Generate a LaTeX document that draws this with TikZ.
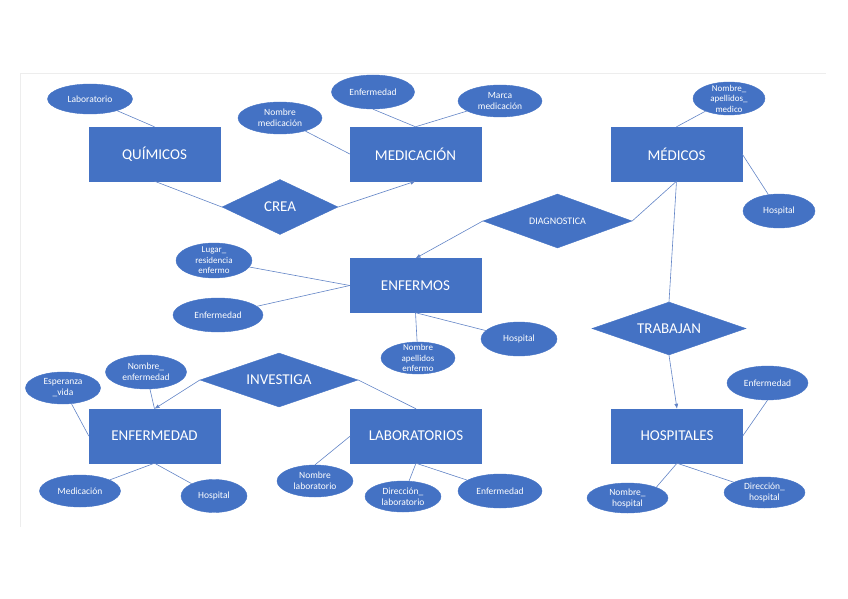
\documentclass[tikz,border=0pt]{standalone}
\usepackage{fontspec}
\setmainfont{Carlito}
\usetikzlibrary{shapes.geometric, arrows.meta}
\definecolor{erblue}{RGB}{68,114,196}
\definecolor{erline}{RGB}{98,132,198}
\tikzset{
    entidad/.style={rectangle, fill=erblue, draw=erblue, minimum width=131pt, minimum height=54pt, inner sep=0pt, text=white, font=\fontsize{15}{18}\selectfont},
    relacion/.style={diamond, aspect=3, fill=erblue, draw=erblue, inner sep=0pt, text=white, font=\fontsize{15}{18}\selectfont},
    atributo/.style={ellipse, fill=erblue, draw=erblue, inner sep=0pt, text=white, align=center, font=\fontsize{9.5}{11}\selectfont},
    conn/.style={erline, line width=0.6pt},
    flecha/.style={conn, -{Latex[length=5pt,width=4pt]}}
}

\begin{document}
\begin{tikzpicture}[x=1pt, y=-1pt]
    \useasboundingbox (0,0) rectangle (848,599);

    % Faint frame of the slide
    \draw[black!7] (20,527) -- (20,73) -- (826,73);

    % Entities
    \node[entidad] (quimicos) at (154.5,154) {QUÍMICOS};
    \node[entidad] (medicacion) at (415.5,154) {MEDICACIÓN};
    \node[entidad] (medicos) at (676.5,154) {MÉDICOS};
    \node[entidad] (enfermos) at (415.5,285.5) {ENFERMOS};
    \node[entidad] (enfermedad) at (154.5,436) {ENFERMEDAD};
    \node[entidad] (laboratorios) at (416,436) {LABORATORIOS};
    \node[entidad] (hospitales) at (677,436) {HOSPITALES};

    % Relationships
    \node[relacion, minimum width=116pt, minimum height=55pt] (crea) at (280,207) {CREA};
    \node[relacion, minimum width=149pt, minimum height=54pt, font=\fontsize{10}{12}\selectfont] (diagnostica) at (557.5,221) {DIAGNOSTICA};
    \node[relacion, minimum width=154pt, minimum height=53pt] (trabajan) at (669,328.5) {TRABAJAN};
    \node[relacion, minimum width=158pt, minimum height=54pt] (investiga) at (279,380) {INVESTIGA};

    % Attributes
    \node[atributo, minimum width=85pt, minimum height=30pt] (laboratorio) at (90,99) {Laboratorio};
    \node[atributo, minimum width=84pt, minimum height=32pt] (nommedicacion) at (280,118) {Nombre\\medicación};
    \node[atributo, minimum width=83pt, minimum height=34pt] (enfmedicacion) at (373,92) {Enfermedad};
    \node[atributo, minimum width=84pt, minimum height=32pt] (marca) at (500,101) {Marca\\medicación};
    \node[atributo, minimum width=72pt, minimum height=33pt, inner ysep=-6pt, font=\fontsize{9}{10.5}\selectfont] (nommedico) at (729,98.5) {Nombre\_\\apellidos\_\\medico};
    \node[atributo, minimum width=72pt, minimum height=34pt] (hospmedico) at (779,211) {Hospital};
    \node[atributo, minimum width=76pt, minimum height=35pt, inner ysep=-6pt, font=\fontsize{9}{10.5}\selectfont] (lugar) at (214,260.5) {Lugar\_\\residencia\\enfermo};
    \node[atributo, minimum width=90pt, minimum height=34pt] (enfenfermo) at (218,315) {Enfermedad};
    \node[atributo, minimum width=74pt, minimum height=32pt, inner ysep=-6pt, font=\fontsize{9}{10.5}\selectfont] (nomenfermo) at (418,358) {Nombre\\apellidos\\enfermo};
    \node[atributo, minimum width=76pt, minimum height=34pt] (hospenfermo) at (519,339) {Hospital};
    \node[atributo, minimum width=75pt, minimum height=32pt] (esperanza) at (63,388) {Esperanza\\\_vida};
    \node[atributo, minimum width=81pt, minimum height=34pt] (nomenfermedad) at (146,372) {Nombre\_\\enfermedad};
    \node[atributo, minimum width=81pt, minimum height=32pt] (medenfermedad) at (80,491) {Medicación};
    \node[atributo, minimum width=66pt, minimum height=33pt] (hospenfermedad) at (214,496) {Hospital};
    \node[atributo, minimum width=76pt, minimum height=32pt] (nomlab) at (315,481) {Nombre\\laboratorio};
    \node[atributo, minimum width=76pt, minimum height=31pt] (dirlab) at (403,496.5) {Dirección\_\\laboratorio};
    \node[atributo, minimum width=84pt, minimum height=34pt] (enflab) at (500,491) {Enfermedad};
    \node[atributo, minimum width=81pt, minimum height=34pt] (enfhosp) at (767.5,383) {Enfermedad};
    \node[atributo, minimum width=81pt, minimum height=30pt] (nomhosp) at (627.5,498) {Nombre\_\\hospital};
    \node[atributo, minimum width=81pt, minimum height=31pt] (dirhosp) at (764.5,492.5) {Dirección\_\\hospital};

    % Connectors between entities and relationships
    \draw[conn] (quimicos.south) -- (crea.west);
    \draw[flecha] (crea.east) -- (medicacion.south);
    \draw[conn] (medicos.south) -- (diagnostica.east);
    \draw[flecha] (diagnostica.west) -- (enfermos.north);
    \draw[conn] (medicos.south) -- (trabajan.north);
    \draw[flecha] (trabajan.south) -- (hospitales.north);
    \draw[flecha] (investiga.west) -- (enfermedad.north);
    \draw[conn] (investiga.east) -- (laboratorios.north);

    % Connectors to attributes
    \draw[conn] (laboratorio) -- (quimicos.north);
    \draw[conn] (nommedicacion) -- (medicacion.west);
    \draw[conn] (enfmedicacion.south) -- (medicacion.north);
    \draw[conn] (marca) -- (medicacion.north);
    \draw[conn] (nommedico) -- (medicos.north);
    \draw[conn] (medicos.east) -- (hospmedico);
    \draw[conn] (lugar) -- (enfermos.west);
    \draw[conn] (enfenfermo) -- (enfermos.west);
    \draw[conn] (enfermos.south) -- (nomenfermo);
    \draw[conn] (enfermos.south) -- (hospenfermo);
    \draw[conn] (nomenfermedad) -- (enfermedad.north);
    \draw[conn] (esperanza) -- (enfermedad.west);
    \draw[conn] (enfermedad.south) -- (medenfermedad);
    \draw[conn] (enfermedad.south) -- (hospenfermedad);
    \draw[conn] (laboratorios.west) -- (nomlab.north);
    \draw[conn] (laboratorios.south) -- (dirlab);
    \draw[conn] (laboratorios.south) -- (enflab);
    \draw[conn] (hospitales.east) -- (enfhosp.south);
    \draw[conn] (hospitales.south) -- (nomhosp.north east);
    \draw[conn] (hospitales.south) -- (dirhosp);
\end{tikzpicture}
\end{document}
